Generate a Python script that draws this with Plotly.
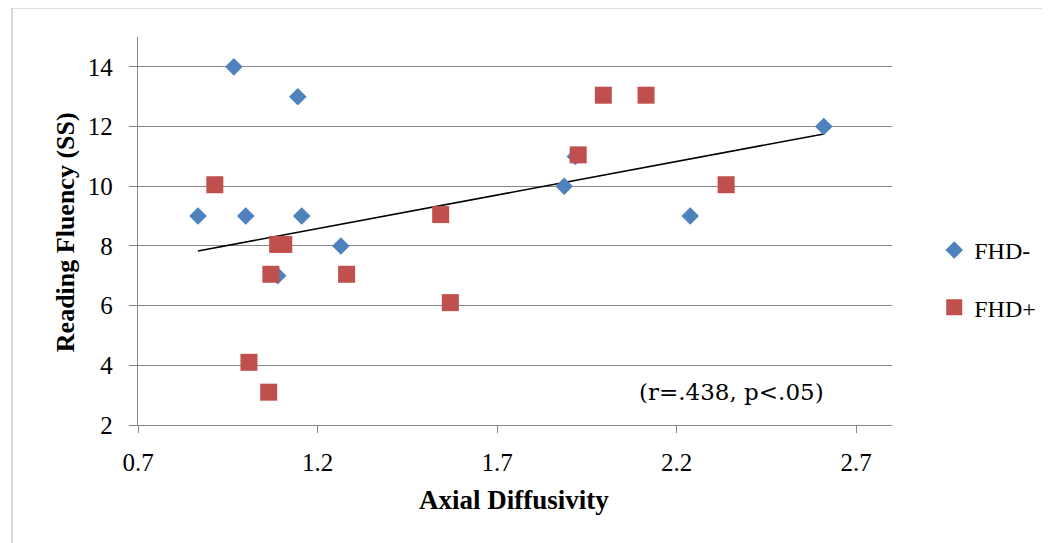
import numpy as np
import plotly.graph_objects as go

# FHD- (blue diamonds)
fhd_minus_x = [0.967, 1.145, 0.867, 1.000, 1.156, 1.089, 1.265, 1.887, 1.918, 2.238, 2.610]
fhd_minus_y = [14, 13, 9, 9, 9, 7, 8, 10, 11, 9, 12]

# FHD+ (red squares)
fhd_plus_x = [0.914, 1.009, 1.064, 1.070, 1.089, 1.106, 1.281, 1.543, 1.570, 1.926, 1.996, 2.115, 2.338]
fhd_plus_y = [10.05, 4.1, 3.1, 7.05, 8.05, 8.05, 7.05, 9.05, 6.1, 11.05, 13.05, 13.05, 10.05]

# Linear trendline
trend_slope = 2.25
trend_intercept = 5.88
trend_x = [min(fhd_minus_x), max(fhd_minus_x)]
trend_y = [trend_intercept + trend_slope * v for v in trend_x]

x_ticks = [0.7, 1.2, 1.7, 2.2, 2.7]
y_ticks = [2, 4, 6, 8, 10, 12, 14]

x_title = "Axial Diffusivity"
y_title = "Reading Fluency (SS)"
stat_note = "(r=.438, p<.05)"

FONT = "Liberation Serif"
GRID = "#878787"

fig = go.Figure()
fig.add_trace(go.Scatter(
    x=trend_x, y=trend_y, mode="lines",
    line=dict(color="black", width=1.6), showlegend=False, hoverinfo="skip"))
fig.add_trace(go.Scatter(
    x=fhd_minus_x, y=fhd_minus_y, mode="markers", name="FHD-", legendgroup="a",
    marker=dict(symbol="diamond", size=13.5, color="#4F81BD", line=dict(width=0))))
fig.add_trace(go.Scatter(
    x=fhd_plus_x, y=fhd_plus_y, mode="markers", name="FHD+", legendgroup="b",
    marker=dict(symbol="square", size=17, color="#C0504D", line=dict(width=0))))

fig.update_layout(
    width=1050, height=543,
    margin=dict(l=130, r=166, t=29, b=126, autoexpand=False),
    paper_bgcolor="white", plot_bgcolor="white",
    font=dict(family=FONT, size=25, color="black"),
    legend=dict(x=1.056, y=0.508, xanchor="left", yanchor="top",
                font=dict(size=24), tracegroupgap=23, itemwidth=30,
                bgcolor="rgba(0,0,0,0)"),
    shapes=[
        dict(type="line", xref="paper", yref="paper", x0=-0.1671, x1=-0.1671, y0=-0.5, y1=1.0747,
             line=dict(color="#BFBFBF", width=1.2)),
        dict(type="line", xref="paper", yref="paper", x0=-0.1671, x1=1.5, y0=1.0747, y1=1.0747,
             line=dict(color="#BFBFBF", width=1.2)),
    ],
    annotations=[
        dict(x=2.352, y=3.1, xref="x", yref="y", text=stat_note, showarrow=False,
             font=dict(family="DejaVu Serif", size=23), xanchor="center", yanchor="middle"),
        dict(x=0.4987, y=-0.1933, xref="paper", yref="paper", text=f"<b>{x_title}</b>",
             showarrow=False, font=dict(size=27), xanchor="center", yanchor="middle"),
        dict(x=-0.0968, y=0.497, xref="paper", yref="paper", text=f"<b>{y_title}</b>",
             showarrow=False, font=dict(size=26), textangle=-90,
             xanchor="center", yanchor="middle"),
    ],
)

fig.update_xaxes(
    range=[0.7, 2.8], tickvals=x_ticks, ticktext=[f"{v:.1f}" for v in x_ticks],
    showgrid=False, zeroline=False,
    showline=True, linecolor=GRID, linewidth=1.3,
    ticks="outside", ticklen=7, tickcolor=GRID, tickwidth=1.3,
    ticklabelstandoff=8,
)
fig.update_yaxes(
    range=[2, 15], tickvals=y_ticks,
    showgrid=True, gridcolor=GRID, gridwidth=1.3, zeroline=False,
    showline=True, linecolor=GRID, linewidth=1.3,
    ticks="outside", ticklen=8, tickcolor=GRID, tickwidth=1.3,
    ticklabelstandoff=11,
)

fig.write_html("out.html")
